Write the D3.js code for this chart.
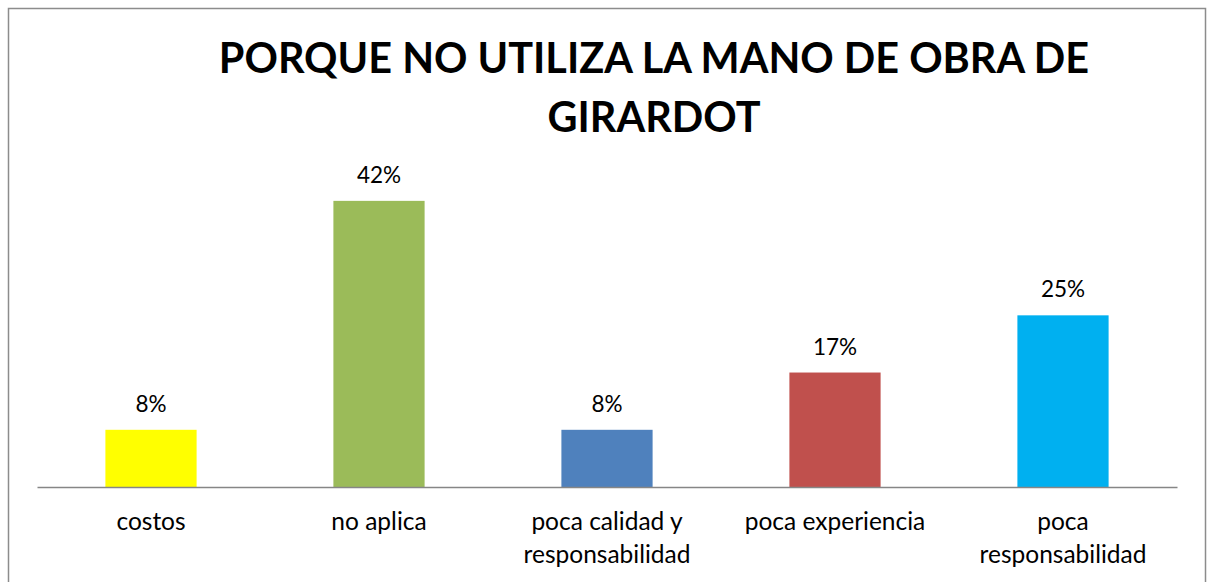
<!DOCTYPE html>
<html>
<head>
  <meta charset='utf-8'/>
  <style>
body { margin: 0; background: #fff; }
.title { font: bold 41.4px Lato, "Open Sans", sans-serif; text-anchor: middle; fill: #000; }
.label { font: 22.5px Lato, "Open Sans", sans-serif; text-anchor: middle; fill: #000; }
.cat { font-size: 24.5px; }
  </style>
  <script src="https://d3js.org/d3.v7.min.js" charset="utf-8"></script>
</head>
<body>
<svg width="1209" height="582"></svg>
<script>

var categories = ["costos", "no aplica", "poca calidad y responsabilidad", "poca experiencia", "poca responsabilidad"],
    categoryLines = [["costos"], ["no aplica"], ["poca calidad y", "responsabilidad"], ["poca experiencia"], ["poca", "responsabilidad"]],
    values = [0.0833, 0.4167, 0.0833, 0.1667, 0.25],
    valueLabels = ["8%", "42%", "8%", "17%", "25%"],
    colors = ["#FFFF00", "#9BBB59", "#4F81BD", "#C0504D", "#00B0F0"],
    titleLines = ["PORQUE NO UTILIZA LA MANO DE OBRA DE", "GIRARDOT"];

var svg = d3.select("svg");

// chart border
svg.append("rect")
    .attr("x", 8.5).attr("y", 8.5)
    .attr("width", 1197).attr("height", 600)
    .attr("fill", "#fff")
    .attr("stroke", "#8c8c8c")
    .attr("stroke-width", 1.5);

var x = d3.scaleBand()
    .domain(categories)
    .range([37, 1177])
    .paddingInner(0.6)
    .paddingOuter(0.3);

var y = d3.scaleLinear()
    .domain([0, 0.45])
    .range([487, 178]);

svg.selectAll(".title")
    .data(titleLines)
    .enter().append("text")
      .attr("class", "title")
      .attr("x", 654)
      .attr("y", function(d, i) { return 73 + i * 59; })
      .text(function(d) { return d; });

svg.selectAll(".bar")
    .data(values)
    .enter().append("rect")
      .attr("class", "bar")
      .attr("x", function(d, i) { return x(categories[i]); })
      .attr("width", x.bandwidth())
      .attr("y", function(d) { return y(d); })
      .attr("height", function(d) { return y(0) - y(d); })
      .attr("fill", function(d, i) { return colors[i]; });

svg.selectAll(".value")
    .data(values)
    .enter().append("text")
      .attr("class", "label value")
      .attr("x", function(d, i) { return x(categories[i]) + x.bandwidth() / 2; })
      .attr("y", function(d) { return y(d) - 18; })
      .text(function(d, i) { return valueLabels[i]; });

// category axis: line only, no ticks
var axis = svg.append("g")
    .attr("transform", "translate(0," + y(0) + ")")
    .call(d3.axisBottom(x).tickSize(0).tickFormat(""));
axis.select(".domain").attr("stroke", "#868686").attr("stroke-width", 1.5);

var cat = svg.selectAll(".cat")
    .data(categories)
    .enter().append("text")
      .attr("class", "label cat")
      .attr("transform", function(d) { return "translate(" + (x(d) + x.bandwidth() / 2) + ",530)"; });

cat.selectAll("tspan")
    .data(function(d, i) { return categoryLines[i]; })
    .enter().append("tspan")
      .attr("x", 0)
      .attr("y", function(d, i) { return i * 33; })
      .text(function(d) { return d; });

</script>
</body>
</html>
